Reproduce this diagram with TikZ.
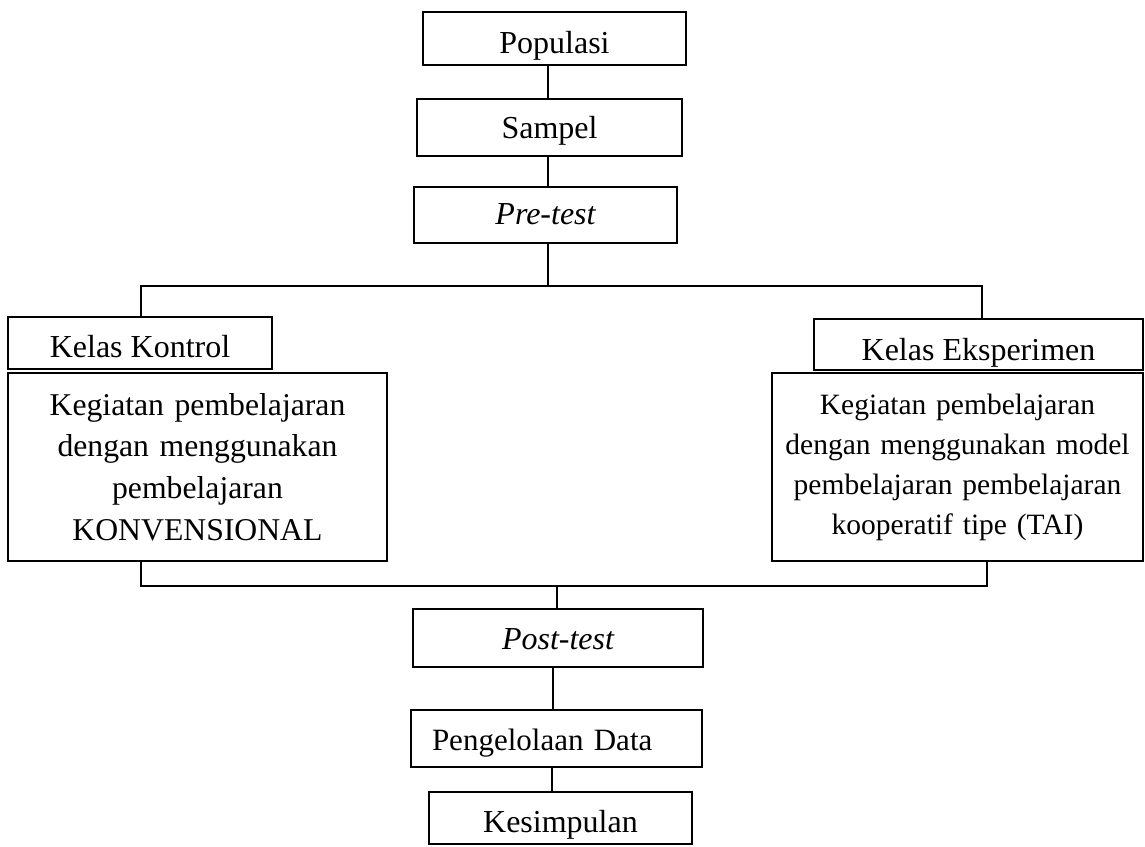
\documentclass[tikz,border=0pt]{standalone}
\usepackage{fontspec}
\setmainfont{Liberation Serif}
\begin{document}
\begin{tikzpicture}[x=1pt,y=-1pt,
  box/.style={draw, line width=1.8pt, inner sep=0pt, font=\fontsize{32}{40}\selectfont},
  onel/.style={text depth=0pt, text height=#1},
  conn/.style={line width=1.5pt}]
\useasboundingbox (0,0) rectangle (1145,846);
% boxes
\node[box, onel=29pt, minimum width=263pt, minimum height=53pt] (pop) at (554.5,38.5) {Populasi};
\node[box, onel=21.6pt, minimum width=265pt, minimum height=57pt] (samp) at (549.5,127.5) {Sampel};
\node[box, onel=18.6pt, minimum width=263pt, minimum height=56pt] (pre) at (545.5,215) {\itshape Pre-test};
\node[box, onel=28pt, minimum width=264pt, minimum height=52pt] (kk) at (140,343) {Kelas Kontrol};
\node[box, onel=31pt, minimum width=329pt, minimum height=51pt] (ke) at (978.5,344.5) {Kelas Eksperimen};
\node[box, font=\fontsize{31.7}{41.7}\selectfont, text width=379pt, align=center, minimum height=188pt] (lbox) at (197.5,467)
  {Kegiatan pembelajaran\\dengan menggunakan\\pembelajaran\\KONVENSIONAL};
\node[box, font=\fontsize{29.5}{40}\selectfont, text width=371pt, align=center, minimum height=188pt] (rbox) at (957.5,467)
  {Kegiatan pembelajaran\\dengan menggunakan model\\pembelajaran pembelajaran\\kooperatif tipe (TAI)};
\node[box, onel=22pt, minimum width=290pt, minimum height=58pt] (post) at (558,638) {\itshape Post-test};
\node[box, onel=23pt, font=\fontsize{31}{40}\selectfont, inner xsep=21pt, text width=249pt, align=left, minimum height=57pt] (peng) at (556.5,738.5) {Pengelolaan Data};
\node[box, onel=28pt, minimum width=263pt, minimum height=52pt] (kes) at (560.5,818) {Kesimpulan};
% junction coordinates
\coordinate (trunk) at (548,0);
\coordinate (tl) at (141,286);
\coordinate (tr) at (982,286);
\coordinate (bl) at (141,586);
\coordinate (br) at (987,586);
\coordinate (mid) at (557,0);
\coordinate (pp) at (553,0);
\coordinate (pk) at (552,0);
% connectors
\draw[conn] (pop.south -| trunk) -- (samp.north -| trunk);
\draw[conn] (samp.south -| trunk) -- (pre.north -| trunk);
\draw[conn] (pre.south -| trunk) -- (tl -| trunk);
\draw[conn] (kk.north -| tl) -- (tl) -- (tr) -- (ke.north -| tr);
\draw[conn] (lbox.south -| bl) -- (bl) -- (br) -- (rbox.south -| br);
\draw[conn] (bl -| mid) -- (post.north -| mid);
\draw[conn] (post.south -| pp) -- (peng.north -| pp);
\draw[conn] (peng.south -| pk) -- (kes.north -| pk);
\end{tikzpicture}
\end{document}
